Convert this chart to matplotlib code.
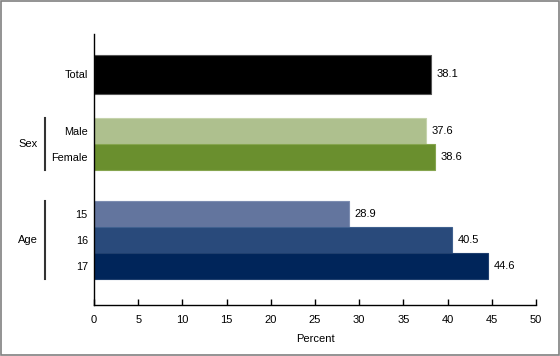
"""Horizontal bar chart: percent by total, sex and age."""

import matplotlib.pyplot as plt
from matplotlib.patches import Rectangle

plt.rcParams["font.family"] = ["Liberation Sans", "DejaVu Sans"]

labels = ["Total", "Male", "Female", "15", "16", "17"]
values = [38.1, 37.6, 38.6, 28.9, 40.5, 44.6]
colors = ["#000000", "#aec08e", "#6a8f2e", "#63759e", "#294a7b", "#00255a"]
edges = ["#555555", "#c5d3ac", "#86a54f", "#7d8db1", "#40618f", "#1f3f6e"]
groups = ["Sex", "Age"]
group_members = [["Male", "Female"], ["15", "16", "17"]]
xticks = [0, 5, 10, 15, 20, 25, 30, 35, 40, 45, 50]

# layout in pixel-like units (y grows downward)
centers = [74.5, 131, 157, 214, 240, 266]
heights = [39, 26, 26, 26, 26, 26]

fig = plt.figure(figsize=(5.6, 3.56), dpi=100)
fig.patches.append(Rectangle((0.001, 0.002), 0.997, 0.995, transform=fig.transFigure,
                             fill=False, edgecolor="#808080", linewidth=1.2))
ax = fig.add_axes([0.168, 0.143, 0.789, 0.762])

ax.barh(centers, values, height=heights, color=colors, edgecolor=edges, linewidth=0.8)
for c, v in zip(centers, values):
    ax.text(v + 0.6, c, f"{v:.1f}", va="center", ha="left", fontsize=8)

ax.set_xlim(0, 50)
ax.set_ylim(305, 34)
ax.set_xticks(xticks)
ax.set_xticklabels([str(t) for t in xticks], fontsize=8)
ax.set_yticks(centers)
ax.set_yticklabels(labels, fontsize=7.8)
ax.tick_params(axis="y", length=0, pad=4.5)
ax.tick_params(axis="x", direction="in", length=4, width=1, pad=7)
ax.set_xlabel("Percent", fontsize=8)
ax.xaxis.set_label_coords(0.5, -0.105)

for side in ("top", "right"):
    ax.spines[side].set_visible(False)
for side in ("left", "bottom"):
    ax.spines[side].set_linewidth(1)

# group labels with vertical brackets
for name, members in zip(groups, group_members):
    idx = [labels.index(m) for m in members]
    top = centers[idx[0]] - heights[idx[0]] / 2
    bot = centers[idx[-1]] + heights[idx[-1]] / 2
    ax.plot([-5.55, -5.55], [top, bot], color="#333333", linewidth=1.5, clip_on=False)
    ax.text(-7.5, (top + bot) / 2, name, ha="center", va="center", fontsize=8)

fig.savefig("out.png", dpi=100)
